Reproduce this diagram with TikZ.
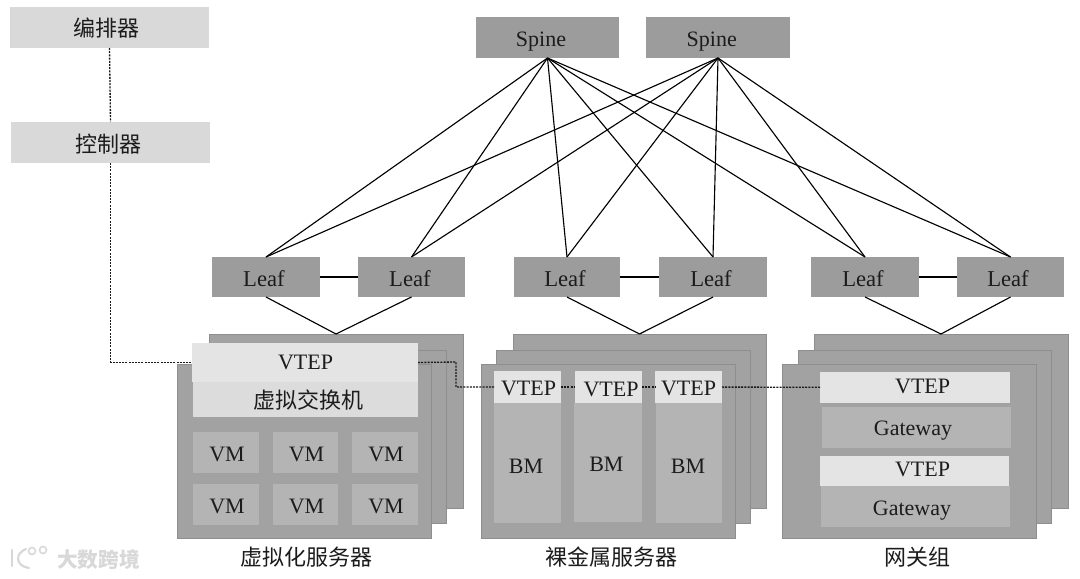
\documentclass[tikz,border=0pt]{standalone}
\usepackage{fontspec}
\setmainfont{Liberation Serif}
\newfontfamily\cjk{Noto Sans CJK SC}
\definecolor{topbox}{HTML}{D9D9D9}
\definecolor{darkbox}{HTML}{9C9C9C}
\definecolor{stack}{HTML}{A2A2A2}
\definecolor{stackedge}{HTML}{8E8E8E}
\definecolor{inner}{HTML}{B4B4B4}
\definecolor{vtepfill}{HTML}{E4E4E4}
\definecolor{switchfill}{HTML}{DCDCDC}
\definecolor{ink}{HTML}{1C1C1C}
\definecolor{wm}{HTML}{D8D8D8}
\tikzset{
  x=.75pt,y=-.75pt,
  base/.style={inner sep=0pt,outer sep=0pt,text=ink,font=\fontsize{16.5}{18}\selectfont,anchor=center},
  ctrlbox/.style={base,fill=topbox},
  netbox/.style={base,fill=darkbox},
  leafbox/.style={netbox,font=\fontsize{17}{18}\selectfont},
  stackbox/.style={base,fill=stack,draw=stackedge,line width=.6pt},
  vmbox/.style={base,fill=inner},
  vtepbox/.style={base,fill=vtepfill},
  swbox/.style={base,fill=switchfill},
  solidline/.style={draw=black,line width=.85pt},
  dotline/.style={draw=black!90,line width=1pt,dash pattern=on 1.5pt off .9pt},
  caption/.style={base},
}
% style, name, x0, y0, x1, y1, text
\newcommand\bx[7]{%
  \pgfmathsetmacro\bxw{(#5-#3)*.75}%
  \pgfmathsetmacro\bxh{(#6-#4)*.75}%
  \pgfmathsetmacro\bxcx{(#3+#5)/2}%
  \pgfmathsetmacro\bxcy{(#4+#6)/2}%
  \node[#1,minimum width=\bxw pt,minimum height=\bxh pt] (#2) at (\bxcx,\bxcy) {#7};%
}
% horizontal offset and baseline offset from the box centre, in pixels
\newcommand\tx[3]{\makebox[0pt]{\kern #1\dimexpr1.5pt\relax\smash{\lower #2\dimexpr.75pt\relax\hbox{#3}}}}
\begin{document}
\begin{tikzpicture}
\useasboundingbox (0,0) rectangle (1080,578);
\fill[white] (0,0) rectangle (1080,578);
% control
\bx{ctrlbox}{orch}{10}{7}{209}{48}{\tx{-3}{9}{\cjk 编排器}}
\bx{ctrlbox}{ctrl}{11}{122}{210}{163}{\tx{-2}{9.5}{\cjk 控制器}}
% spines
\bx{netbox}{spineA}{476}{17}{619}{58}{\tx{-6.5}{9}{Spine}}
\bx{netbox}{spineB}{646}{17}{790}{58}{\tx{-6.3}{9}{Spine}}
% leaves
\bx{leafbox}{leafA}{212}{257}{320}{297}{\tx{-2}{9}{Leaf}}
\bx{leafbox}{leafB}{358}{257}{465}{297}{\tx{-1.5}{9}{Leaf}}
\bx{leafbox}{leafC}{514}{257}{620}{297}{\tx{-2}{9}{Leaf}}
\bx{leafbox}{leafD}{659}{257}{767}{297}{\tx{-2}{9}{Leaf}}
\bx{leafbox}{leafE}{811}{257}{919}{297}{\tx{-2}{9}{Leaf}}
\bx{leafbox}{leafF}{957}{257}{1064}{297}{\tx{-2.5}{9}{Leaf}}
% stack 1
\bx{stackbox}{sAback}{209}{334}{463}{508}{}
\bx{stackbox}{sAmid}{193}{350}{446}{523}{}
\bx{stackbox}{sAfront}{177}{364}{431}{538}{}
\bx{swbox}{vswitch}{193}{382}{418}{417}{\tx{2.5}{9}{\cjk 虚拟交换机}}
\bx{vtepbox}{vtepA}{192}{343}{418}{382}{\tx{.5}{6.5}{VTEP}}
\bx{vmbox}{vmA}{193}{432}{259}{473}{\tx{1}{9}{VM}}
\bx{vmbox}{vmB}{273}{432}{338}{473}{\tx{1}{9}{VM}}
\bx{vmbox}{vmC}{352}{432}{418}{473}{\tx{1}{9}{VM}}
\bx{vmbox}{vmD}{193}{484}{259}{525}{\tx{1}{8.5}{VM}}
\bx{vmbox}{vmE}{273}{484}{338}{525}{\tx{1}{8.5}{VM}}
\bx{vmbox}{vmF}{352}{484}{418}{525}{\tx{1}{8.5}{VM}}
% stack 2
\bx{stackbox}{sBback}{513}{334}{766}{508}{}
\bx{stackbox}{sBmid}{496}{350}{750}{523}{}
\bx{stackbox}{sBfront}{481}{364}{735}{538}{}
\bx{vmbox}{bmA}{494}{403}{561}{523}{\tx{-1.5}{10}{BM}}
\bx{vmbox}{bmB}{574}{403}{642}{522}{\tx{-1.6}{9}{BM}}
\bx{vmbox}{bmC}{656}{403}{722}{523}{\tx{-1}{10}{BM}}
\bx{vtepbox}{vtepB}{494}{371}{561}{403}{\tx{1}{8}{VTEP}}
\bx{vtepbox}{vtepC}{575}{371}{642}{403}{\tx{2.5}{9}{VTEP}}
\bx{vtepbox}{vtepD}{655}{371}{722}{403}{\tx{0}{8}{VTEP}}
% stack 3
\bx{stackbox}{sCback}{814}{334}{1068}{508}{}
\bx{stackbox}{sCmid}{798}{350}{1051}{523}{}
\bx{stackbox}{sCfront}{782}{364}{1036}{538}{}
\bx{vtepbox}{vtepE}{820}{372}{1010}{403}{\tx{7.6}{5.5}{VTEP}}
\bx{vmbox}{gwA}{822}{407}{1011}{448}{\tx{-3.5}{8}{Gateway}}
\bx{vmbox}{gwB}{821}{486}{1010}{527}{\tx{-3.5}{8.5}{Gateway}}
\bx{vtepbox}{vtepF}{820}{456}{1009}{486}{\tx{8}{5.7}{VTEP}}
% captions
\node[caption] (capA) at (306.6,557) {\cjk 虚拟化服务器};
\node[caption] (capB) at (611,557) {\cjk 裸金属服务器};
\node[caption] (capC) at (917,557) {\cjk 网关组};
% watermark
\node[base,text=wm,font=\fontsize{15.5}{17}\bfseries\selectfont] (mark) at (98.5,560) {\cjk 大数跨境};
\draw[wm,line width=1.6pt,line cap=round] (12,550) -- (12,566);
\draw[wm,line width=1.6pt,line cap=round] (26,549) .. controls (15,553) and (15,566) .. (29,568);
\draw[wm,line width=1.2pt] (32,551) circle[radius=3.5];
\draw[wm,line width=1.2pt] (43,550) circle[radius=3.5];
% spine-leaf mesh
\foreach \s in {spineA,spineB}
  \foreach \l in {leafA,leafB,leafC,leafD,leafE,leafF}
    \draw[solidline] (\s.south) -- (\l.north);
% leaf pairs
\draw[solidline] (leafA) -- (leafB);
\draw[solidline] (leafC) -- (leafD);
\draw[solidline] (leafE) -- (leafF);
% leaves to stacks
\draw[solidline] (leafA.south) -- (sAback.north);
\draw[solidline] (leafB.south) -- (sAback.north);
\draw[solidline] (leafC.south) -- (sBback.north);
\draw[solidline] (leafD.south) -- (sBback.north);
\draw[solidline] (leafE.south) -- (sCback.north);
\draw[solidline] (leafF.south) -- (sCback.north);
% dotted links
\draw[dotline] (orch.south) -- (ctrl.north);
\draw[dotline] (ctrl.south) |- (vtepA.west);
\coordinate (jog) at (456,362);
\draw[dotline] (vtepA.east) -- (jog) |- (vtepB.west);
\draw[dotline] (vtepB) -- (vtepC);
\draw[dotline] (vtepC) -- (vtepD);
\draw[dotline] (vtepD) -- (vtepE);
\end{tikzpicture}
\end{document}
